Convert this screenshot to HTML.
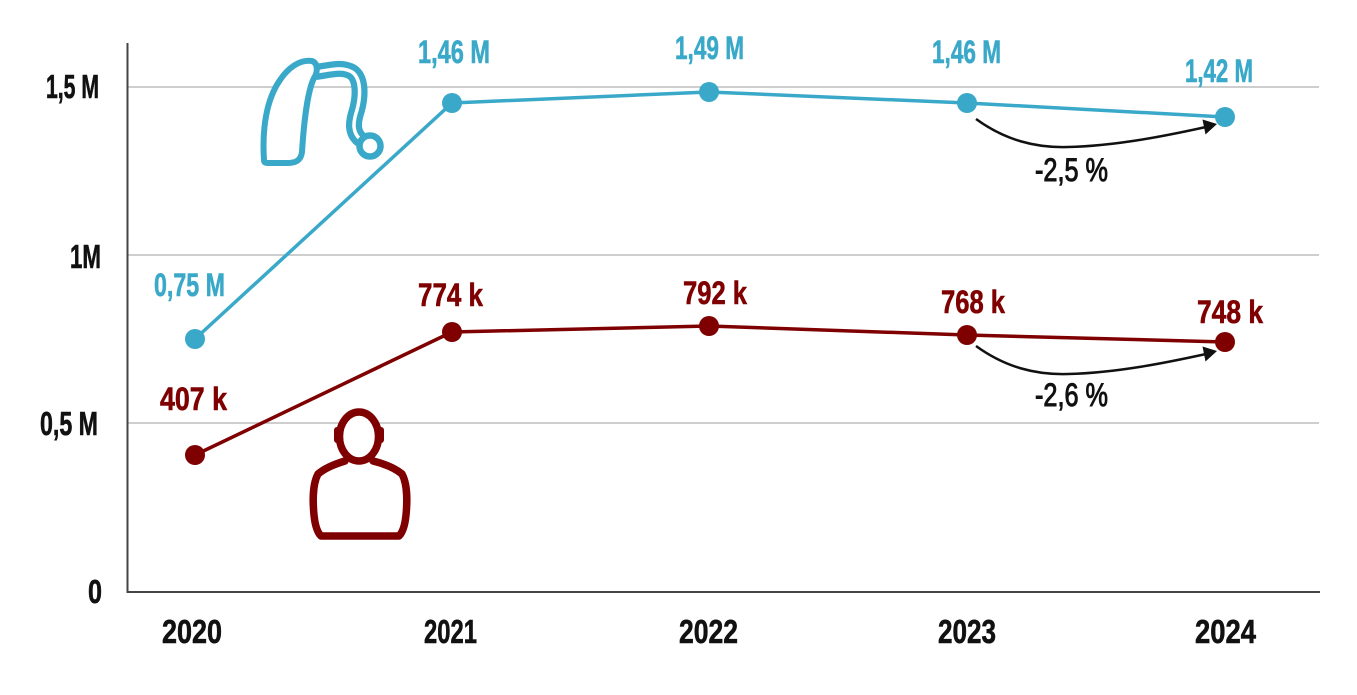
<!DOCTYPE html>
<html>
<head>
<meta charset="utf-8">
<style>
  html, body { margin:0; padding:0; background:#ffffff; }
  body { width:1357px; height:695px; overflow:hidden; }
  svg { display:block; }
  text { font-family: "Liberation Sans Narrow", "Liberation Sans", sans-serif; font-weight: bold; }
  .tick { font-size:33px; fill:#111; stroke:#111; stroke-width:0.6; }
  .blue { font-size:32px; fill:#3aa9c9; stroke:#3aa9c9; stroke-width:0.6; }
  .red { font-size:32px; fill:#7f0000; stroke:#7f0000; stroke-width:0.6; }
  .pct { font-size:32px; fill:#111; font-weight:normal; stroke:#111; stroke-width:1; }
</style>
</head>
<body>
<svg width="1357" height="695" viewBox="0 0 1357 695" xmlns="http://www.w3.org/2000/svg">
  <rect width="1357" height="695" fill="#fff"/>
  <!-- gridlines -->
  <g stroke="#bdbdbd" stroke-width="1.5">
    <line x1="128" y1="87" x2="1319" y2="87"/>
    <line x1="128" y1="255" x2="1319" y2="255"/>
    <line x1="128" y1="423" x2="1319" y2="423"/>
  </g>
  <!-- axes -->
  <line x1="127.5" y1="43" x2="127.5" y2="593" stroke="#444" stroke-width="2"/>
  <line x1="127" y1="592" x2="1320" y2="592" stroke="#444" stroke-width="2"/>

  <!-- hearing aid icon -->
  <g fill="none" stroke="#3aa9c9" stroke-linejoin="round" stroke-linecap="round">
    <path d="M 316 72 C 330 70, 342 66, 352 72 C 361 78, 361 95, 357 110 C 353 122, 352 132, 360 139" stroke-width="16"/>
    <path d="M 316 72 C 330 70, 342 66, 352 72 C 361 78, 361 95, 357 110 C 353 122, 352 132, 360 139" stroke="#fff" stroke-width="3.5"/>
    <path d="M 264 160 C 262 130, 266 100, 280 80 C 288 68, 300 59, 312 61 C 318 63, 318 72, 314 78 C 308 90, 304 120, 302 152 C 301 160, 296 163, 288 163 L 268 163 C 265 163, 264 162, 264 160 Z" fill="#fff" stroke-width="6"/>
    <circle cx="370" cy="146" r="10.5" fill="#fff" stroke-width="6.5"/>
  </g>

  <!-- person icon -->
  <g fill="none" stroke="#7f0000" stroke-width="7.5" stroke-linejoin="round" stroke-linecap="round">
    <path d="M 345 461 C 335 464, 325 468, 318 474 C 312 485, 313 505, 314 515 C 315 525, 317 532, 321 536 L 399 536 C 403 532, 405 525, 406 515 C 407 505, 408 485, 402 474 C 395 468, 385 464, 373 461" fill="#fff"/>
    <ellipse cx="359" cy="436.5" rx="19.5" ry="24.5" fill="#fff"/>
    <line x1="337" y1="430" x2="337" y2="440" stroke-width="6"/>
    <line x1="381" y1="430" x2="381" y2="440" stroke-width="6"/>
  </g>

  <!-- blue series -->
  <polyline points="195,339 452,103 709,92 967,103 1225,117" fill="none" stroke="#3aa9c9" stroke-width="3.5" stroke-linejoin="round"/>
  <g fill="#3aa9c9">
    <circle cx="195" cy="339" r="10"/>
    <circle cx="452" cy="103" r="10"/>
    <circle cx="709" cy="92" r="10"/>
    <circle cx="967" cy="103" r="10"/>
    <circle cx="1225" cy="117" r="10"/>
  </g>
  <!-- red series -->
  <polyline points="195,455 452,332 709,326 967,335 1225,342" fill="none" stroke="#7f0000" stroke-width="3.5" stroke-linejoin="round"/>
  <g fill="#7f0000">
    <circle cx="195" cy="455" r="10"/>
    <circle cx="452" cy="332" r="10"/>
    <circle cx="709" cy="326" r="10"/>
    <circle cx="967" cy="335" r="10"/>
    <circle cx="1225" cy="342" r="10"/>
  </g>

  <!-- arrows -->
  <g>
    <path d="M 976 119 C 1005 140, 1035 148, 1068 147 C 1115 146, 1165 136, 1206 127" fill="none" stroke="#111" stroke-width="2.5"/>
    <polygon points="1217,124 1202.5,119.5 1205.5,134.5" fill="#111"/>
  </g>
  <g transform="translate(0,227)">
    <path d="M 976 119 C 1005 140, 1035 148, 1068 147 C 1115 146, 1165 136, 1206 127" fill="none" stroke="#111" stroke-width="2.5"/>
    <polygon points="1217,124 1202.5,119.5 1205.5,134.5" fill="#111"/>
  </g>

  <!-- y tick labels -->
  <text class="tick" x="46" y="98" textLength="53" lengthAdjust="spacingAndGlyphs">1,5 M</text>
  <text class="tick" x="70" y="268" textLength="31" lengthAdjust="spacingAndGlyphs">1M</text>
  <text class="tick" x="40" y="435" textLength="58" lengthAdjust="spacingAndGlyphs">0,5 M</text>
  <text class="tick" x="88" y="603" textLength="14" lengthAdjust="spacingAndGlyphs">0</text>

  <!-- x tick labels -->
  <text class="tick" x="162" y="643" textLength="60" lengthAdjust="spacingAndGlyphs">2020</text>
  <text class="tick" x="424" y="643" textLength="53" lengthAdjust="spacingAndGlyphs">2021</text>
  <text class="tick" x="679" y="643" textLength="59" lengthAdjust="spacingAndGlyphs">2022</text>
  <text class="tick" x="938" y="643" textLength="58" lengthAdjust="spacingAndGlyphs">2023</text>
  <text class="tick" x="1195" y="643" textLength="61" lengthAdjust="spacingAndGlyphs">2024</text>

  <!-- blue labels -->
  <text class="blue" x="154" y="296" textLength="71" lengthAdjust="spacingAndGlyphs">0,75 M</text>
  <text class="blue" x="418" y="63" textLength="72" lengthAdjust="spacingAndGlyphs">1,46 M</text>
  <text class="blue" x="675" y="59" textLength="69" lengthAdjust="spacingAndGlyphs">1,49 M</text>
  <text class="blue" x="932" y="63" textLength="69" lengthAdjust="spacingAndGlyphs">1,46 M</text>
  <text class="blue" x="1185" y="82" textLength="68" lengthAdjust="spacingAndGlyphs">1,42 M</text>

  <!-- red labels -->
  <text class="red" x="160" y="410" textLength="67" lengthAdjust="spacingAndGlyphs">407 k</text>
  <text class="red" x="418" y="306" textLength="65" lengthAdjust="spacingAndGlyphs">774 k</text>
  <text class="red" x="683" y="304" textLength="64" lengthAdjust="spacingAndGlyphs">792 k</text>
  <text class="red" x="941" y="313" textLength="64" lengthAdjust="spacingAndGlyphs">768 k</text>
  <text class="red" x="1197" y="323" textLength="66" lengthAdjust="spacingAndGlyphs">748 k</text>

  <!-- percentage labels -->
  <text class="pct" x="1035" y="181" textLength="73" lengthAdjust="spacingAndGlyphs">-2,5 %</text>
  <text class="pct" x="1035" y="406" textLength="73" lengthAdjust="spacingAndGlyphs">-2,6 %</text>
</svg>
</body>
</html>
